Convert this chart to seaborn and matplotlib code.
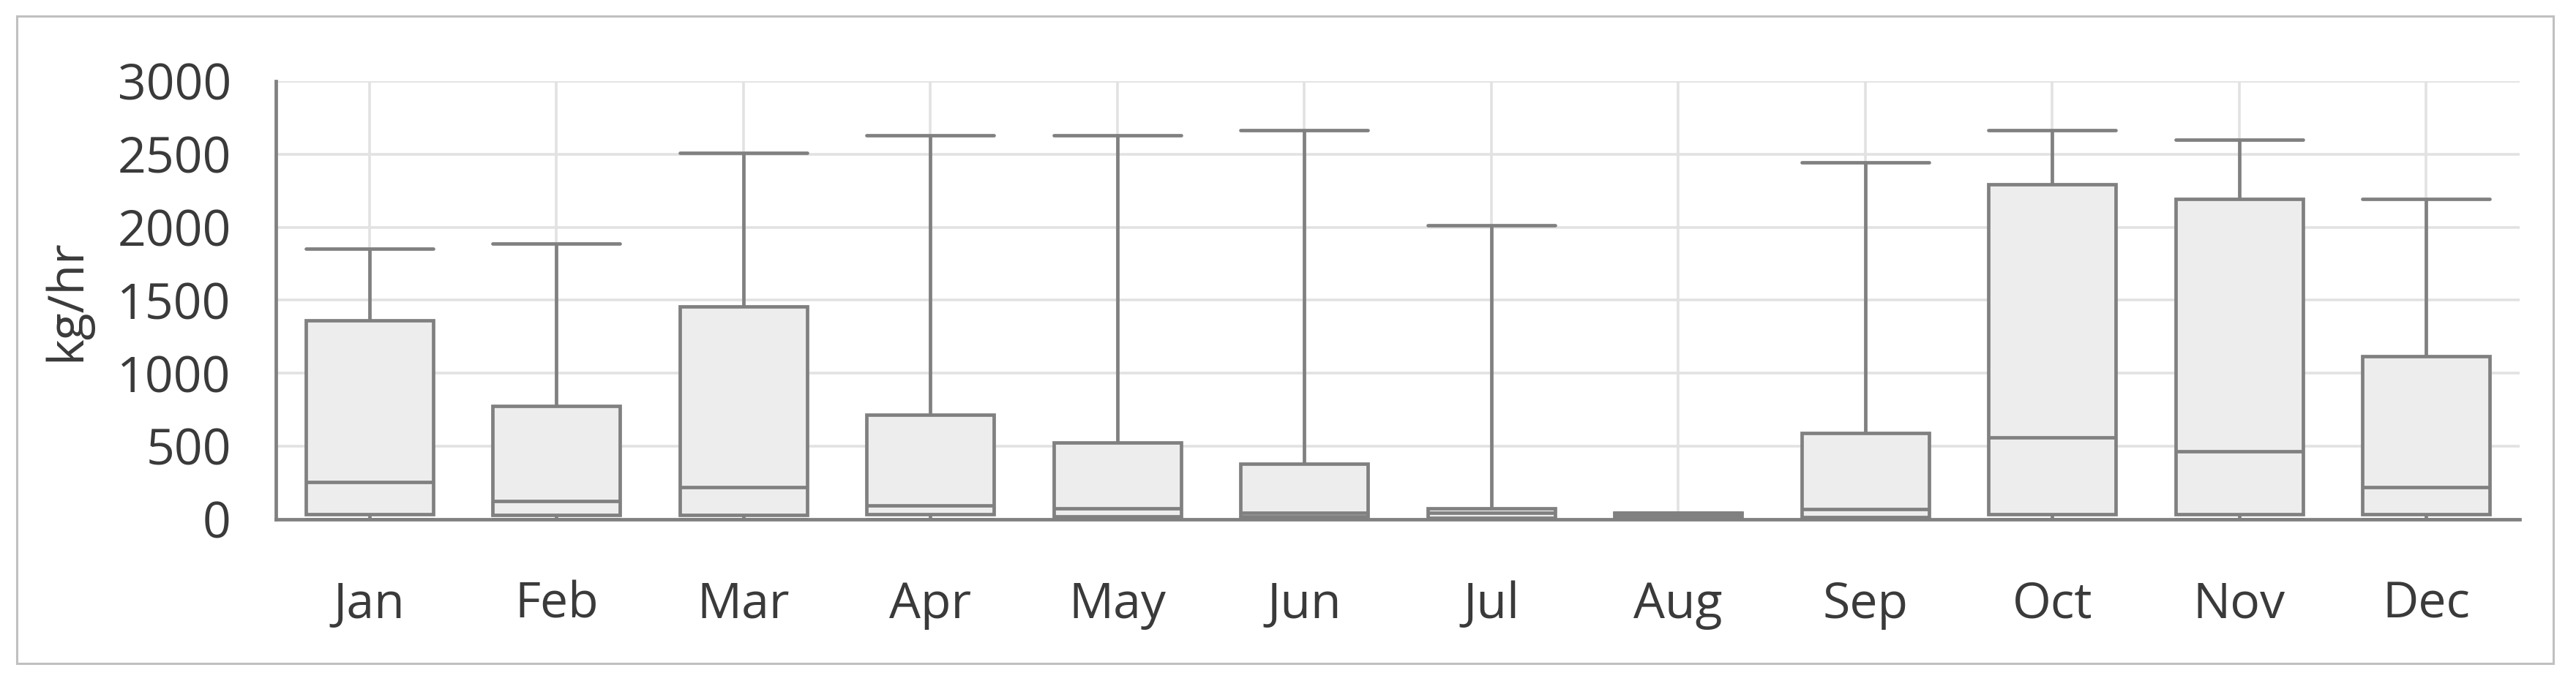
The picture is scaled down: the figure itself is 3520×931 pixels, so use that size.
import numpy as np
import pandas as pd
import matplotlib
matplotlib.use("Agg")
import matplotlib.pyplot as plt
import seaborn as sns
from matplotlib.patches import Rectangle

# five-number summary per month (kg/hr)
months = ["Jan", "Feb", "Mar", "Apr", "May", "Jun",
          "Jul", "Aug", "Sep", "Oct", "Nov", "Dec"]
lo_vals = [0, 0, 0, 0, 0, 0, 0, 0, 0, 0, 0, 0]
q1_vals = [35, 30, 30, 35, 20, 20, 10, 5, 15, 35, 35, 35]
med_vals = [255, 125, 220, 95, 75, 45, 45, 25, 70, 560, 465, 220]
q3_vals = [1360, 775, 1455, 715, 527, 380, 75, 45, 590, 2292, 2196, 1116]
hi_vals = [1855, 1887, 2509, 2631, 2631, 2664, 2012, 45, 2443, 2664, 2598, 2196]

rows = []
for m, a, b, c, d, e in zip(months, lo_vals, q1_vals, med_vals, q3_vals, hi_vals):
    for v in (a, b, c, d, e):
        rows.append({"month": m, "value": v})
df = pd.DataFrame(rows)

sns.set_style("white")
plt.rcParams['font.family'] = ['Open Sans', 'DejaVu Sans']

edge = "#808080"
txt = "#3a3a3a"
lw = 3.4

fig = plt.figure(figsize=(35.2, 9.31), dpi=100)
ax = fig.add_axes([0.1071, 0.2374, 0.8710, 0.6434])

sns.boxplot(data=df, x="month", y="value", order=months, whis=(0, 100),
            width=0.68, color="#ededed", linecolor=edge, linewidth=lw,
            saturation=1, showfliers=False, ax=ax, capwidths=0.68)

ax.set_ylim(0, 3000)
ax.set_xlim(-0.5, 11.5)
ax.set_yticks([0, 500, 1000, 1500, 2000, 2500, 3000])
ax.grid(True, color="#e2e2e2", linewidth=2.6)
ax.set_axisbelow(True)
for s in ["top", "right"]:
    ax.spines[s].set_visible(False)
for s in ["left", "bottom"]:
    ax.spines[s].set_color(edge)
    ax.spines[s].set_linewidth(lw)
ax.tick_params(axis="both", length=24, width=lw, color=edge,
               labelsize=49, labelcolor=txt)
ax.tick_params(axis="y", pad=20)
ax.tick_params(axis="x", pad=36)
ax.set_xlabel("")
ax.set_ylabel("kg/hr", fontsize=49, color=txt, labelpad=25)

fig.patches.append(Rectangle((0.0065, 0.0258), 0.9847, 0.9506,
                             transform=fig.transFigure, fill=False,
                             edgecolor="#c0c0c0", linewidth=2.2))

fig.savefig("out.png", dpi=100, facecolor="white")
